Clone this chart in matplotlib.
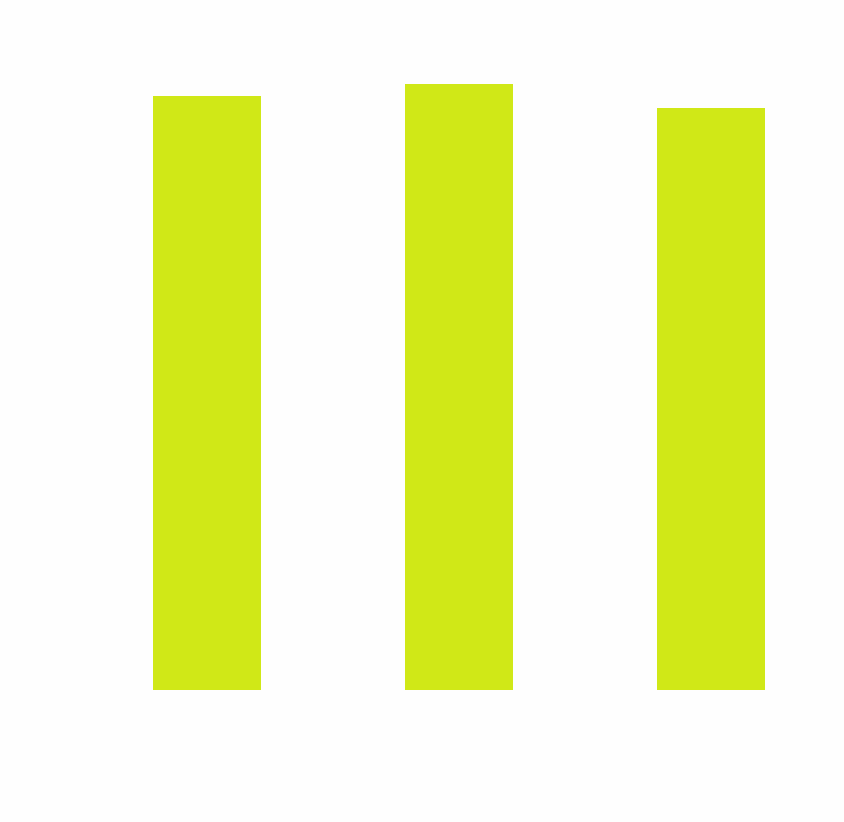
import matplotlib
matplotlib.use("Agg")
import matplotlib.pyplot as plt

categories = ["A", "B", "C"]
values = [49, 50, 48]

W, H = 844, 822
fig = plt.figure(figsize=(W / 100, H / 100), dpi=100)
fig.patch.set_facecolor("#fefefe")

px_per_unit = 606 / 50
left = 207 - 0.5 * 252
right = 711 + 0.5 * 252
bottom = 690
top = bottom - 52.5 * px_per_unit
ax = fig.add_axes([left / W, (H - bottom) / H, (right - left) / W, (bottom - top) / H])
ax.set_facecolor("#fefefe")

x = range(len(categories))
ax.bar(x, values, width=108 / 252, color="#d0e817", linewidth=0)
ax.set_xlim(-0.5, len(categories) - 0.5)
ax.set_ylim(0, 52.5)
ax.axis("off")

fig.savefig("out.png", dpi=100, facecolor=fig.get_facecolor())
